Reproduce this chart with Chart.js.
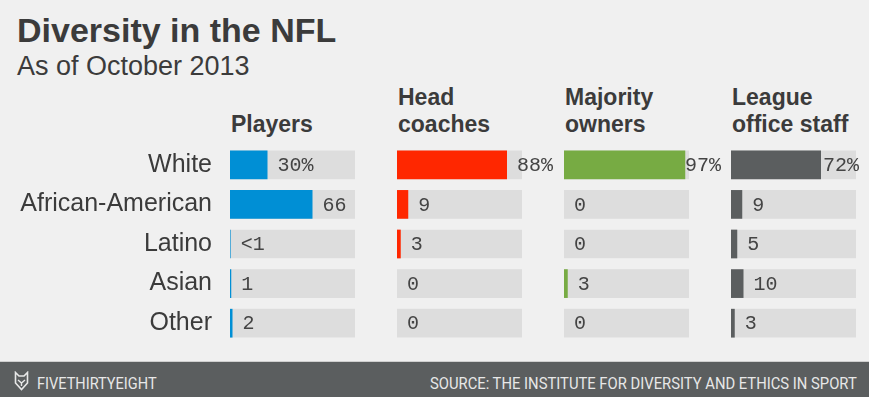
<!DOCTYPE html>
<html>
<head>
<meta charset="utf-8">
<script src="https://cdn.jsdelivr.net/npm/chart.js@4.4.0/dist/chart.umd.min.js"></script>
<style>
  html, body { margin: 0; padding: 0; }
  body { width: 869px; height: 397px; overflow: hidden; background: #f0f0f0; position: relative;
         font-family: "Liberation Sans", Arial, sans-serif; color: #3b3b3b; }
  .title { position: absolute; left: 17px; top: 13px; font-size: 34px; line-height: 34px; font-weight: bold; }
  .subtitle { position: absolute; left: 17px; top: 53px; font-size: 27px; line-height: 27px; }
  .head { position: absolute; bottom: 259px; font-size: 23px; line-height: 27px; font-weight: bold; white-space: nowrap; }
  canvas { position: absolute; top: 145px; }
  .footer { position: absolute; left: 0; top: 361px; width: 869px; height: 36px; background: #5b5e5f;
            border-top: 1px solid #cfcfcf; box-sizing: border-box; }
  .footer span { position: absolute; top: 14px; font-family: Roboto, sans-serif; font-size: 16px; line-height: 16px;
                 color: #e8e8e8; white-space: nowrap; }
  .footer svg { position: absolute; left: 14px; top: 9px; }
</style>
</head>
<body>
<div class="title">Diversity in the NFL</div>
<div class="subtitle">As of October 2013</div>

<div class="head" style="left:231px">Players</div>
<div class="head" style="left:398px">Head<br>coaches</div>
<div class="head" style="left:565px">Majority<br>owners</div>
<div class="head" style="left:732px">League<br>office staff</div>

<canvas id="players" width="397" height="198" style="left:0px"></canvas>
<canvas id="coaches" width="167" height="198" style="left:397px"></canvas>
<canvas id="owners" width="167" height="198" style="left:564px"></canvas>
<canvas id="staff" width="138" height="198" style="left:731px"></canvas>

<div class="footer">
  <svg width="15" height="20" viewBox="0 0 15 20">
    <path d="M1.5 1.5 L5 5 L10 5 L13.5 1.5 L13.5 12 L7.5 18.5 L1.5 12 Z" fill="none" stroke="#e8e8e8" stroke-width="1.6"/>
    <path d="M4 9 L7.5 12 L11 9 M7.5 12 L7.5 15" fill="none" stroke="#e8e8e8" stroke-width="1.4"/>
  </svg>
  <span id="brand" style="left:37px; transform-origin:left center">FIVETHIRTYEIGHT</span>
  <span id="source" style="right:12px; transform-origin:right center">SOURCE: THE INSTITUTE FOR DIVERSITY AND ETHICS IN SPORT</span>
</div>

<script>
// share of each group, in percent
const categories = ["White", "African-American", "Latino", "Asian", "Other"];
const players = [30, 66, 0.5, 1, 2];
const headCoaches = [88, 9, 3, 0, 0];
const majorityOwners = [97, 0, 0, 3, 0];
const leagueStaff = [72, 9, 5, 10, 3];
const track = categories.map(() => 100);

function formatValue(v, i) {
  if (v > 0 && v < 1) return "<1";
  return i === 0 ? v + "%" : String(v);
}

const valueLabels = {
  id: 'valueLabels',
  afterDatasetsDraw(chart) {
    const ctx = chart.ctx;
    const meta = chart.getDatasetMeta(0);
    const values = chart.data.datasets[0].data;
    ctx.save();
    ctx.font = '20px "Liberation Mono", "DejaVu Sans Mono", monospace';
    ctx.fillStyle = '#444444';
    ctx.textBaseline = 'middle';
    ctx.textAlign = 'left';
    meta.data.forEach((bar, i) => {
      const text = formatValue(values[i], i);
      const w = ctx.measureText(text).width;
      const x = Math.min(bar.x + 10, chart.width - 10 - w);
      ctx.fillText(text, x, bar.y + 1);
    });
    ctx.restore();
  }
};

function makePanel(id, values, color, withAxis, rightPad) {
  const yAxis = {
    display: withAxis,
    grid: { display: false, drawTicks: false },
    border: { display: false },
    ticks: {
      padding: 18,
      color: '#3b3b3b',
      font: { family: '"Liberation Sans", Arial, sans-serif', size: 25 }
    }
  };
  if (withAxis) {
    yAxis.afterFit = (scale) => {
      scale.width = 230;
      scale.paddingTop = 0;
      scale.paddingBottom = 0;
    };
  }
  new Chart(document.getElementById(id), {
    type: 'bar',
    data: {
      labels: categories,
      datasets: [{
        data: values,
        backgroundColor: color,
        order: 0,
        grouped: false,
        barPercentage: 0.725,
        categoryPercentage: 1
      }, {
        data: track,
        backgroundColor: '#dddddd',
        order: 1,
        grouped: false,
        barPercentage: 0.725,
        categoryPercentage: 1
      }]
    },
    options: {
      indexAxis: 'y',
      responsive: false,
      animation: false,
      layout: { padding: { left: 0, right: rightPad, top: 0, bottom: 0 } },
      plugins: {
        legend: { display: false },
        tooltip: { enabled: false }
      },
      scales: {
        x: { display: false, min: 0, max: 100 },
        y: yAxis
      }
    },
    plugins: [valueLabels]
  });
}

makePanel("players", players, "#008fd5", true, 42);
makePanel("coaches", headCoaches, "#ff2700", false, 42);
makePanel("owners", majorityOwners, "#77ab43", false, 42);
makePanel("staff", leagueStaff, "#5b5e5f", false, 13);

// squeeze footer text to the condensed width of the original
function fitWidth(id, target) {
  const el = document.getElementById(id);
  el.style.transform = 'scaleX(' + (target / el.offsetWidth) + ')';
}
fitWidth("brand", 120);
fitWidth("source", 427);
</script>
</body>
</html>
